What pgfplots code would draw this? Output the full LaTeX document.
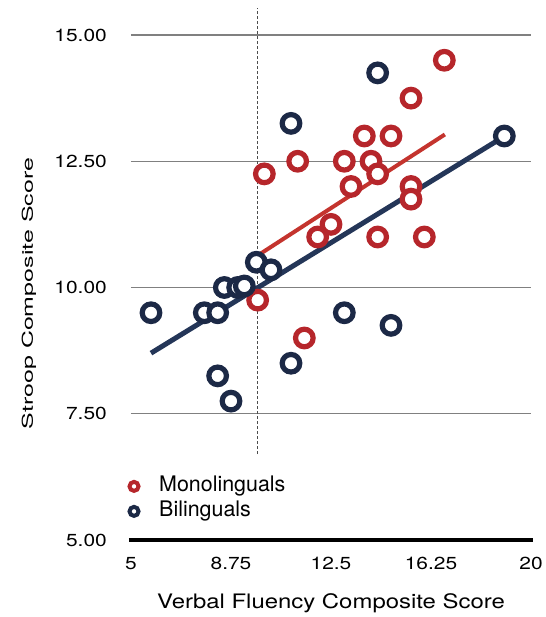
\documentclass[border=0pt]{standalone}
\usepackage{fontspec}
\setmainfont{TeX Gyre Heros}[FakeStretch=1.2]
\newfontfamily\legfont{TeX Gyre Heros}
\usepackage{graphicx}
\usepackage{pgfplots}
\pgfplotsset{compat=1.18}
\definecolor{monored}{RGB}{182,38,43}
\definecolor{binavy}{RGB}{28,41,70}
\definecolor{redline}{RGB}{196,52,46}
\definecolor{navyline}{RGB}{36,54,88}
\begin{document}
\begin{tikzpicture}
\useasboundingbox (-131bp,-77bp) rectangle (415bp,540bp);
\begin{axis}[
  scale only axis, width=400bp, height=505bp,
  xmin=5, xmax=20, ymin=5, ymax=15,
  clip=false,
  axis line style={draw=none},
  major tick length=0pt,
  xtick={5,8.75,12.5,16.25,20},
  xticklabels={5,8.75,12.5,16.25,20},
  ytick={5,7.5,10,12.5,15},
  yticklabels={5.00,7.50,10.00,12.50,15.00},
  /pgf/number format/assume math mode=true,
  ymajorgrids, major grid style={draw=black!50, line width=1.2bp},
  tick label style={font=\fontsize{17.5}{20}\selectfont, inner sep=0pt},
  xticklabel style={anchor=north, yshift=-17bp},
  yticklabel style={anchor=east, xshift=-24bp},
  xlabel={Verbal Fluency Composite Score},
  xlabel style={font=\fontsize{20}{24}\selectfont, at={(axis description cs:0.5,0)}, anchor=base, yshift=-68bp, inner sep=0pt},
  ylabel={\scalebox{1.67}[1]{Stroop Composite Score}},
  ylabel style={font=\legfont\fontsize{15}{18}\selectfont, at={(axis description cs:-0.245,0.488)}, anchor=base, inner sep=0pt},
  legend style={at={(axis cs:4.87,6.25)}, anchor=north west, draw=none, fill=none, inner sep=0pt, outer sep=0pt,
    font=\legfont\fontsize{21.5}{25}\selectfont, row sep=6bp, column sep=0pt,
    nodes={inner sep=0pt, text height=15bp, text depth=4bp}},
  legend cell align=left,
]
\addplot[forget plot, draw=black!70, line width=1bp, dash pattern=on 3bp off 2bp] coordinates {(9.75,6.7) (9.75,15.53)};
\addplot[forget plot, black, line width=3.5bp] coordinates {(4.92,5) (20.08,5)};
\addplot[only marks, mark=*, mark size=8.8bp, mark options={draw=monored, fill=white, line width=5.2bp},
  legend image code/.code={\draw[draw=monored, fill=white, line width=4bp] (0bp,0bp) circle (4.5bp); \path (25bp,0bp);}]
  coordinates {
  (16.75,14.5) (15.5,13.75) (13.75,13.0) (14.75,13.0) (10.0,12.25) (11.25,12.5)
  (13.0,12.5) (14.0,12.5) (14.25,12.25) (13.25,12.0) (15.5,12.0) (15.5,11.75)
  (12.5,11.25) (12.0,11.0) (14.25,11.0) (16.0,11.0) (9.75,9.75) (11.5,9.0)
  };
\addlegendentry{Monolinguals}
\addplot[only marks, mark=*, mark size=8.8bp, mark options={draw=binavy, fill=white, line width=5.2bp},
  legend image code/.code={\draw[draw=binavy, fill=white, line width=4bp] (0bp,0bp) circle (4.5bp); \path (25bp,0bp);}]
  coordinates {
  (14.25,14.25) (11.0,13.25) (19.0,13.0) (9.7,10.5) (10.25,10.35) (8.5,10.0)
  (9.0,10.0) (9.25,10.03) (5.75,9.5) (7.75,9.5) (8.25,9.5) (13.0,9.5)
  (14.75,9.25) (11.0,8.5) (8.25,8.25) (8.75,7.75)
  };
\addlegendentry{Bilinguals}
\addplot[forget plot, redline, line width=4bp] coordinates {(9.77,10.64) (16.77,13.03)};
\addplot[forget plot, navyline, line width=5bp] coordinates {(5.75,8.70) (19.02,13.0)};
\end{axis}
\end{tikzpicture}
\end{document}
